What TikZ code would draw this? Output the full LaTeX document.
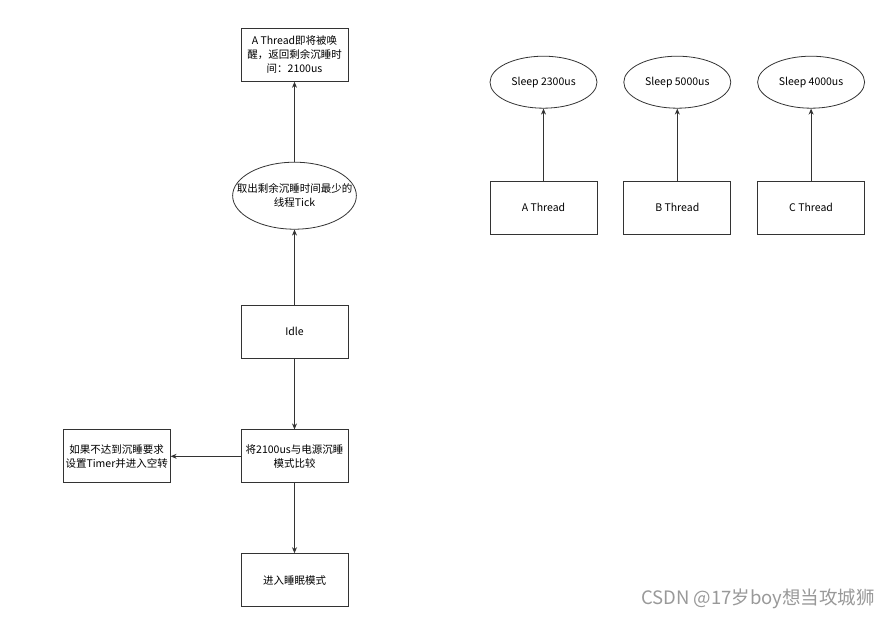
\documentclass[tikz,border=0pt]{standalone}
\usepackage{fontspec}
\setmainfont{Noto Sans CJK SC}
\usetikzlibrary{arrows.meta, positioning, shapes.geometric}

\begin{document}
\begin{tikzpicture}
  [x=1pt, y=-1pt,
   box/.style={rectangle,draw=black!80,fill=white,line width=0.8pt,
               inner sep=0pt,minimum width=107pt,minimum height=53pt,
               align=center,font=\fontsize{10.5}{14}\selectfont},
   oval/.style={ellipse,draw=black!80,fill=white,line width=0.8pt,
                inner sep=0pt,minimum width=107pt,minimum height=52pt,
                align=center,font=\fontsize{10.5}{14}\selectfont},
   link/.style={-{Stealth[length=6pt,width=5pt]},draw=black!80,line width=0.8pt}]
   \useasboundingbox (0,0) rectangle (895,619);
   % left column
   \node[box]  (idle)     at (294.5,331.5)                 {Idle};
   \node[oval] (min tick) [above=75pt of idle,
                           inner xsep=-14pt,
                           minimum width=123pt,
                           minimum height=67pt]            {取出剩余沉睡时间最少的\\线程Tick};
   \node[box]  (wake)     [above=80pt of min tick]         {A Thread即将被唤\\醒，返回剩余沉睡时\\间：2100us};
   \node[box]  (compare)  [below=71pt of idle]             {将2100us与电源沉睡\\模式比较};
   \node[box]  (spin)     [left=70pt of compare]           {如果不达到沉睡要求\\设置Timer并进入空转};
   \node[box]  (sleep)    [below=70pt of compare]          {进入睡眠模式};
   \draw[link] (idle) -- (min tick);
   \draw[link] (min tick) -- (wake);
   \draw[link] (idle) -- (compare);
   \draw[link] (compare) -- (spin);
   \draw[link] (compare) -- (sleep);
   % threads
   \node[box]  (thread a) at (543.5,207.5)                 {A Thread};
   \node[box]  (thread b) [right=26pt of thread a]         {B Thread};
   \node[box]  (thread c) [right=26pt of thread b]         {C Thread};
   \node[oval] (sleep a)  [above=72pt of thread a]         {Sleep 2300us};
   \node[oval] (sleep b)  [above=72pt of thread b]         {Sleep 5000us};
   \node[oval] (sleep c)  [above=72pt of thread c]         {Sleep 4000us};
   \foreach \t in {a,b,c}
     \draw[link] (thread \t) -- (sleep \t);
   \node[text=black!40,font=\fontsize{18.5}{22}\selectfont] (mark) at (758,599)
        {CSDN @17岁boy想当攻城狮};
\end{tikzpicture}
\end{document}
